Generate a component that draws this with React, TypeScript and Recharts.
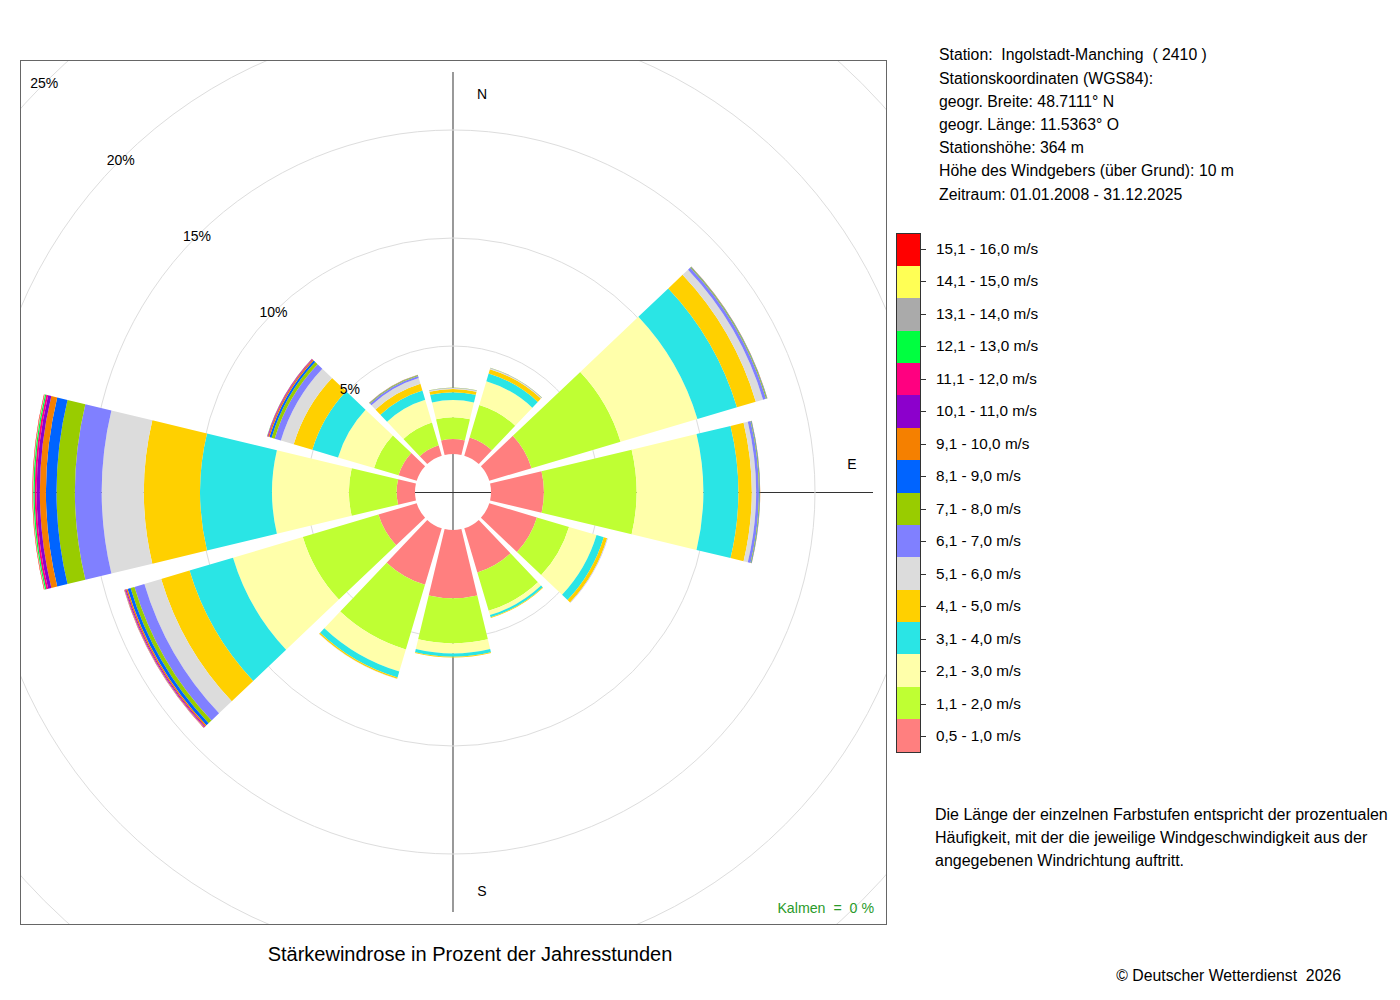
import React from 'react';
import { RadialBarChart, RadialBar, PolarGrid, PolarAngleAxis, PolarRadiusAxis } from 'recharts';

// Wind directions (sector centres 0°, 30°, ... clockwise from north)
const directions = ['N', 'NNE', 'ENE', 'E', 'ESE', 'SSE', 'S', 'SSW', 'WSW', 'W', 'WNW', 'NNW'];

// Speed classes (low -> high) with their colours
const speedLabels = [
  '0,5 - 1,0 m/s', '1,1 - 2,0 m/s', '2,1 - 3,0 m/s', '3,1 - 4,0 m/s',
  '4,1 - 5,0 m/s', '5,1 - 6,0 m/s', '6,1 - 7,0 m/s', '7,1 - 8,0 m/s',
  '8,1 - 9,0 m/s', '9,1 - 10,0 m/s', '10,1 - 11,0 m/s', '11,1 - 12,0 m/s',
  '12,1 - 13,0 m/s', '13,1 - 14,0 m/s', '14,1 - 15,0 m/s', '15,1 - 16,0 m/s',
];
const speedColors = [
  '#FF7F7F', '#BFFF33', '#FFFFAA', '#2AE5E5',
  '#FFD000', '#DCDCDC', '#8080FF', '#99CC00',
  '#0064FF', '#F58000', '#8C00CC', '#FF0080',
  '#00FF40', '#AAAAAA', '#FFFF55', '#FF0000',
];

// Percent of year hours per direction, one array per speed class
//                N     NNE   ENE   E     ESE   SSE   S     SSW   WSW   W     WNW   NNW
const s01 = [0.69, 0.88, 2.04, 2.45, 2.30, 2.13, 3.16, 2.73, 1.85, 0.85, 0.88, 0.50];
const s02 = [1.01, 1.57, 4.30, 4.29, 1.55, 1.85, 2.09, 3.12, 3.65, 2.21, 1.18, 1.10];
const s03 = [0.80, 1.15, 3.71, 3.09, 1.33, 0.21, 0.46, 1.07, 3.37, 3.56, 1.74, 1.10];
const s04 = [0.36, 0.37, 1.91, 1.62, 0.35, 0.11, 0.15, 0.28, 2.10, 3.33, 1.24, 0.45];
const s05 = [0.15, 0.21, 0.91, 0.62, 0.16, 0.03, 0.04, 0.07, 1.37, 2.60, 0.90, 0.33];
const s06 = [0.04, 0.04, 0.35, 0.20, 0.02, 0.00, 0.00, 0.01, 0.81, 1.95, 0.62, 0.27];
const s07 = [0.02, 0.02, 0.14, 0.13, 0.01, 0.00, 0.00, 0.00, 0.48, 1.24, 0.30, 0.10];
const s08 = [0.01, 0.01, 0.04, 0.03, 0.00, 0.00, 0.00, 0.00, 0.19, 0.85, 0.15, 0.03];
const s09 = [0.00, 0.00, 0.02, 0.02, 0.00, 0.00, 0.00, 0.00, 0.14, 0.49, 0.10, 0.02];
const s10 = [0.00, 0.00, 0.01, 0.01, 0.00, 0.00, 0.00, 0.00, 0.07, 0.28, 0.06, 0.01];
const s11 = [0.00, 0.00, 0.00, 0.00, 0.00, 0.00, 0.00, 0.00, 0.04, 0.15, 0.03, 0.00];
const s12 = [0.00, 0.00, 0.00, 0.00, 0.00, 0.00, 0.00, 0.00, 0.03, 0.09, 0.02, 0.00];
const s13 = [0.00, 0.00, 0.00, 0.00, 0.00, 0.00, 0.00, 0.00, 0.01, 0.06, 0.01, 0.00];
const s14 = [0.00, 0.00, 0.00, 0.00, 0.00, 0.00, 0.00, 0.00, 0.01, 0.02, 0.00, 0.00];
const s15 = [0.00, 0.00, 0.00, 0.00, 0.00, 0.00, 0.00, 0.00, 0.00, 0.01, 0.00, 0.00];
const s16 = [0.00, 0.00, 0.00, 0.00, 0.00, 0.00, 0.00, 0.00, 0.01, 0.02, 0.00, 0.00];

const radiusTicks = [5, 10, 15, 20, 25];

const stationLines = [
  'Station:  Ingolstadt-Manching  ( 2410 )',
  'Stationskoordinaten (WGS84):',
  'geogr. Breite: 48.7111° N',
  'geogr. Länge: 11.5363° O',
  'Stationshöhe: 364 m',
  'Höhe des Windgebers (über Grund): 10 m',
  'Zeitraum: 01.01.2008 - 31.12.2025',
];
const noteLines = [
  'Die Länge der einzelnen Farbstufen entspricht der prozentualen',
  'Häufigkeit, mit der die jeweilige Windgeschwindigkeit aus der',
  'angegebenen Windrichtung auftritt.',
];

const series = [s01, s02, s03, s04, s05, s06, s07, s08, s09, s10, s11, s12, s13, s14, s15, s16];
const keys = series.map((_, i) => 's' + String(i + 1).padStart(2, '0'));
const data = directions.map((dir, d) => {
  const row: Record<string, any> = { dir };
  series.forEach((arr, i) => { row[keys[i]] = arr[d]; });
  return row;
});

const FONT = "'Liberation Sans', Arial, Helvetica, sans-serif";
const RAD = Math.PI / 180;

function pt(cx: number, cy: number, r: number, a: number) {
  return `${cx + r * Math.cos(-a * RAD)},${cy + r * Math.sin(-a * RAD)}`;
}

// Sector with an angular gap (plus a small constant offset) to its neighbours
function GapSector(props: any) {
  const { cx, cy, innerRadius, outerRadius, startAngle, endAngle, fill } = props;
  const ri = Math.min(innerRadius, outerRadius);
  const ro = Math.max(innerRadius, outerRadius);
  if (!(ro - ri > 0.01)) return null;
  const a0 = Math.min(startAngle, endAngle);
  const a1 = Math.max(startAngle, endAngle);
  const g = 1.5;
  const h = 0.5;
  const di = g + Math.asin(Math.min(1, h / ri)) / RAD;
  const dO = g + Math.asin(Math.min(1, h / ro)) / RAD;
  const d = `M${pt(cx, cy, ri, a0 + di)} L${pt(cx, cy, ro, a0 + dO)} A${ro},${ro} 0 0 0 ${pt(cx, cy, ro, a1 - dO)} L${pt(cx, cy, ri, a1 - di)} A${ri},${ri} 0 0 1 ${pt(cx, cy, ri, a0 + di)} Z`;
  return <path d={d} fill={fill} stroke="none" />;
}

function RadiusTick(props: any) {
  const { x, y, payload } = props;
  if (!payload || payload.value === 0) return null;
  return (
    <text x={x} y={y} textAnchor="middle" dominantBaseline="central" fontSize={14} fill="#000" fontFamily={FONT}>
      {payload.value}%
    </text>
  );
}

const BOX_W = 865;
const BOX_H = 863;
const CX = 432;
const CY = 431;

export default function App() {
  return (
    <div style={{ position: 'relative', width: 1392, height: 992, fontFamily: FONT, color: '#000' }}>
      {/* plot frame */}
      <div style={{ position: 'absolute', left: 12, top: 52, width: BOX_W + 2, height: BOX_H + 2, border: '1px solid #666', boxSizing: 'border-box', overflow: 'hidden', background: '#fff' }}>
        <svg width={BOX_W} height={BOX_H} style={{ position: 'absolute', left: 0, top: 0 }}>
          <line x1={CX} y1={CY - 420} x2={CX} y2={CY + 420} stroke="#808080" strokeWidth={1.6} />
          <line x1={CX - 420} y1={CY + 0.5} x2={CX + 420} y2={CY + 0.5} stroke="#333" strokeWidth={1} />
          <text x={461} y={33} textAnchor="middle" dominantBaseline="central" fontSize={14} fontFamily={FONT}>N</text>
          <text x={831} y={403} textAnchor="middle" dominantBaseline="central" fontSize={14} fontFamily={FONT}>E</text>
          <text x={461} y={830} textAnchor="middle" dominantBaseline="central" fontSize={14} fontFamily={FONT}>S</text>
        </svg>
        <div style={{ position: 'absolute', left: 0, top: 0 }}>
          <RadialBarChart
            width={BOX_W}
            height={BOX_H}
            data={data}
            layout="centric"
            cx={CX}
            cy={CY}
            innerRadius={38}
            outerRadius={578}
            startAngle={75}
            endAngle={-285}
            barCategoryGap={0}
            margin={{ top: 0, right: 0, bottom: 0, left: 0 }}
          >
            <PolarGrid gridType="circle" radialLines={false} stroke="#DDDDDD" strokeWidth={1} />
            <PolarAngleAxis type="category" dataKey="dir" tick={false} axisLine={false} tickLine={false} />
            {keys.map((k, i) => (
              <RadialBar
                key={k}
                dataKey={k}
                stackId="rose"
                fill={speedColors[i]}
                shape={GapSector}
                isAnimationActive={false}
              />
            ))}
            <PolarRadiusAxis
              type="number"
              domain={[0, 25]}
              ticks={radiusTicks}
              angle={135}
              axisLine={false}
              tickLine={false}
              tick={RadiusTick}
              allowDataOverflow
            />
          </RadialBarChart>
        </div>
      </div>

      <div style={{ position: 'absolute', left: 666, top: 891, width: 200, textAlign: 'right', fontSize: 14.2, lineHeight: '18px', color: '#2A9A2A', whiteSpace: 'pre' }}>
        {'Kalmen  =  0 %'}
      </div>

      {/* station info */}
      <div style={{ position: 'absolute', left: 931, top: 35.4, fontSize: 15.8, lineHeight: '23.2px', whiteSpace: 'pre' }}>
        {stationLines.map((l) => <div key={l}>{l}</div>)}
      </div>

      {/* legend */}
      <div style={{ position: 'absolute', left: 888, top: 224.5, width: 25, height: 520, border: '1px solid #333', boxSizing: 'border-box', display: 'flex', flexDirection: 'column' }}>
        {speedColors.slice().reverse().map((c, i) => (
          <div key={i} style={{ flex: 1, background: c }} />
        ))}
      </div>
      {speedLabels.slice().reverse().map((l, i) => (
        <React.Fragment key={l}>
          <div style={{ position: 'absolute', left: 913, top: 224.5 + 16.25 + 32.5 * i, width: 5, height: 1, background: '#333' }} />
          <div style={{ position: 'absolute', left: 928, top: 224.5 + 16.25 + 32.5 * i - 11, fontSize: 15.3, lineHeight: '22px', whiteSpace: 'pre' }}>{l}</div>
        </React.Fragment>
      ))}

      {/* note */}
      <div style={{ position: 'absolute', left: 927, top: 794.5, fontSize: 16, lineHeight: '23px', whiteSpace: 'pre' }}>
        {noteLines.map((l) => <div key={l}>{l}</div>)}
      </div>

      {/* title */}
      <div style={{ position: 'absolute', left: 62, top: 934, width: 800, textAlign: 'center', fontSize: 20, lineHeight: '24px' }}>
        Stärkewindrose in Prozent der Jahresstunden
      </div>

      {/* copyright */}
      <div style={{ position: 'absolute', left: 933, top: 957, width: 400, textAlign: 'right', fontSize: 15.8, lineHeight: '22px', whiteSpace: 'pre' }}>
        {'© Deutscher Wetterdienst  2026'}
      </div>
    </div>
  );
}
